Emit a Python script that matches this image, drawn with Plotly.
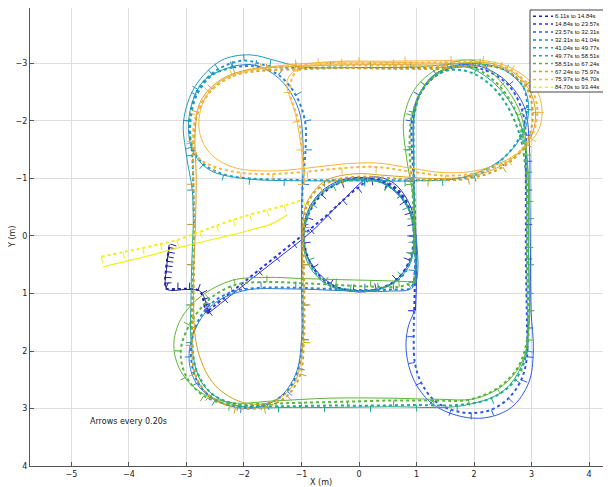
import math
import plotly.graph_objects as go

# ---------------- data ----------------
labels = ["6.11s to 14.84s", "14.84s to 23.57s", "23.57s to 32.31s", "32.31s to 41.04s",
          "41.04s to 49.77s", "49.77s to 58.51s", "58.51s to 67.24s", "67.24s to 75.97s",
          "75.97s to 84.70s", "84.70s to 93.44s"]

x_ticks = [-5, -4, -3, -2, -1, 0, 1, 2, 3, 4]
y_ticks = [-3, -2, -1, 0, 1, 2, 3, 4]

# segment 1
seg1_est_x = [-2.60, -2.64, -2.67, -2.69, -2.71, -2.74, -2.80, -2.95, -3.15, -3.36, -3.37, -3.37, -3.36, -3.35, -3.34, -3.33, -3.31, -3.30, -3.28]
seg1_est_y = [1.30, 1.36, 1.30, 1.20, 1.10, 1.00, 0.94, 0.92, 0.92, 0.91, 0.82, 0.72, 0.62, 0.52, 0.44, 0.36, 0.28, 0.20, 0.14]
seg1_ref_x = [-2.62, -2.70, -2.78, -3.00, -3.34, -3.34, -3.30]
seg1_ref_y = [1.34, 1.05, 0.95, 0.93, 0.92, 0.50, 0.15]

# segment 2
seg2_est_x = [-2.62, -2.35, -2.05, -1.75, -1.45, -1.15, -0.85, -0.55, -0.28, -0.02, 0.22, 0.5, 0.75, 0.9, 0.95, 0.88, 0.65, 0.3, -0.1, -0.5, -0.8, -0.95, -0.9, -0.65, -0.3, 0.1, 0.5, 0.8, 0.95, 0.98, 0.97, 0.96]
seg2_est_y = [1.30, 1.08, 0.84, 0.60, 0.36, 0.12, -0.12, -0.37, -0.62, -0.84, -0.99, -0.93, -0.72, -0.4, 0.0, 0.42, 0.76, 0.93, 0.95, 0.84, 0.55, 0.12, -0.32, -0.72, -0.94, -1.0, -0.9, -0.6, -0.2, 0.3, 0.8, 1.3]
seg2_ref_x = [-2.6, -2.0, -1.4, -0.8, -0.3, 0.2, 0.6, 0.9, 0.97, 0.88, 0.6, 0.2, -0.3, -0.7, -0.95, -0.92, -0.65, -0.2, 0.3, 0.7, 0.95, 1.0, 0.98]
seg2_ref_y = [1.33, 0.85, 0.38, -0.1, -0.6, -1.02, -0.92, -0.5, 0.0, 0.45, 0.8, 0.96, 0.92, 0.65, 0.2, -0.35, -0.78, -1.0, -0.97, -0.7, -0.25, 0.4, 1.3]

# segment 3
seg3_est_x = [0.96, 0.95, 0.97, 1.08, 1.3, 1.6, 1.95, 2.3, 2.6, 2.82, 2.92, 2.92, 2.91, 2.9, 2.9, 2.9, 2.9, 2.9, 2.83, 2.6, 2.2, 1.75, 1.35, 1.05, 0.92, 0.92, 0.95, 0.97, 0.98]
seg3_est_y = [1.3, 1.75, 2.2, 2.55, 2.85, 3.02, 3.08, 3.02, 2.82, 2.5, 2.1, 1.6, 1.0, 0.4, -0.2, -0.8, -1.3, -1.75, -2.2, -2.62, -2.88, -2.95, -2.8, -2.45, -2.0, -1.5, -1.0, -0.5, 0.0]
seg3_ref_x = [0.97, 0.85, 0.82, 0.95, 1.25, 1.7, 2.2, 2.65, 2.95, 3.03, 2.99, 2.98, 2.97, 2.96, 2.87, 2.55, 2.1, 1.6, 1.2, 0.97, 0.95, 0.98]
seg3_ref_y = [1.3, 1.6, 2.0, 2.5, 2.9, 3.12, 3.16, 2.98, 2.55, 2.0, 1.3, 0.3, -0.7, -1.6, -2.25, -2.7, -2.95, -2.95, -2.7, -2.2, -1.3, 0.0]

# segment 4
seg4_est_x = [0.98, 0.97, 0.9, 0.6, 0.1, -0.5, -1.1, -1.7, -2.2, -2.6, -2.85, -2.92, -2.8, -2.5, -2.05, -1.6, -1.25, -1.05, -0.98, -0.98, -0.99, -0.99, -0.98, -0.93, -0.94, -1.1, -1.4, -1.8, -2.2]
seg4_est_y = [0.0, 0.6, 0.9, 0.93, 0.94, 0.92, 0.9, 0.9, 0.97, 1.2, 1.6, 2.1, 2.55, 2.85, 2.97, 2.92, 2.7, 2.3, 1.8, 1.2, 0.5, -0.2, -0.9, -1.5, -2.0, -2.45, -2.8, -2.95, -2.93]
seg4_ref_x = [0.99, 0.95, 0.5, -0.3, -1.2, -2.0, -2.55, -2.88, -2.95, -2.8, -2.4, -1.9, -1.4, -1.1, -1.0, -1.0, -1.0, -0.97, -1.05, -1.35, -1.8, -2.2]
seg4_ref_y = [0.0, 0.88, 0.96, 0.95, 0.92, 0.95, 1.2, 1.7, 2.2, 2.6, 2.9, 3.0, 2.82, 2.4, 1.8, 0.8, -0.4, -1.5, -2.2, -2.7, -2.97, -2.95]

# segment 5
seg5_est_x = [-2.2, -2.55, -2.82, -2.93, -2.9, -2.7, -2.35, -1.9, -1.3, -0.6, 0.1, 0.8, 1.45, 2.0, 2.45, 2.78, 2.92, 2.85, 2.55, 2.1, 1.6, 0.9, 0.2, -0.5, -1.1, -1.55, -2.0, -2.45, -2.8, -2.95, -2.9, -2.88, -2.87]
seg5_est_y = [-2.93, -2.8, -2.45, -2.0, -1.55, -1.25, -1.07, -1.0, -0.98, -0.97, -0.97, -0.97, -0.98, -1.05, -1.3, -1.7, -2.2, -2.6, -2.88, -2.97, -2.93, -2.92, -2.92, -2.93, -2.92, -2.95, -3.05, -2.9, -2.55, -2.0, -1.4, -0.8, -0.2]
seg5_ref_x = [-2.2, -2.7, -2.95, -2.9, -2.6, -2.0, -1.0, 0.0, 1.0, 1.8, 2.5, 2.9, 2.9, 2.5, 2.0, 1.0, 0.0, -1.0, -1.45, -1.9, -2.4, -2.85, -3.05, -3.0, -2.9, -2.88]
seg5_ref_y = [-2.95, -2.7, -2.1, -1.5, -1.15, -1.0, -0.96, -0.96, -0.96, -1.02, -1.35, -1.9, -2.5, -2.9, -3.0, -2.94, -2.93, -2.94, -3.05, -3.15, -3.05, -2.6, -2.0, -1.4, -0.8, -0.2]

# segment 6
seg6_est_x = [-2.87, -2.88, -2.9, -2.9, -2.82, -2.55, -2.1, -1.4, -0.6, 0.2, 1.0, 1.7, 2.3, 2.72, 2.92, 2.94, 2.93, 2.93, 2.9, 2.78, 2.45, 2.0, 1.55, 1.15, 0.97, 0.95, 0.95, 0.93, 0.75, 0.35, -0.15, -0.6, -0.88, -0.96, -0.82, -0.45, 0.05, 0.5, 0.85, 0.97, 0.98]
seg6_est_y = [-0.2, 0.5, 1.2, 1.85, 2.35, 2.75, 2.93, 2.96, 2.95, 2.95, 2.94, 2.94, 2.82, 2.5, 2.0, 1.3, 0.5, -0.3, -1.1, -1.8, -2.45, -2.82, -2.88, -2.62, -2.15, -1.55, -0.95, 0.3, 0.7, 0.92, 0.95, 0.8, 0.42, -0.08, -0.55, -0.88, -0.99, -0.88, -0.5, 0.1, 0.8]
seg6_ref_x = [-2.88, -2.92, -2.9, -2.7, -2.2, -1.0, 0.5, 1.8, 2.5, 2.85, 2.95, 2.94, 2.92, 2.75, 2.3, 1.8, 1.3, 1.0, 0.95, 0.9, 0.55, 0.0, -0.55, -0.9, -0.95, -0.7, -0.2, 0.4, 0.85, 0.98, 0.98]
seg6_ref_y = [-0.2, 1.0, 2.0, 2.6, 2.93, 2.98, 2.97, 2.95, 2.7, 2.2, 1.5, 0.0, -1.3, -2.1, -2.7, -2.95, -2.8, -2.3, -1.2, 0.45, 0.85, 0.97, 0.85, 0.45, -0.1, -0.7, -0.97, -0.92, -0.5, 0.2, 0.8]

# segment 7
seg7_est_x = [0.98, 0.7, 0.2, -0.4, -1.0, -1.6, -2.15, -2.6, -2.95, -3.1, -3.0, -2.7, -2.25, -1.7, -1.0, -0.2, 0.6, 1.3, 1.9, 2.4, 2.75, 2.92, 2.93, 2.92, 2.92, 2.88, 2.75, 2.45, 2.0, 1.55, 1.15, 0.92, 0.88, 0.92, 0.95, 0.96]
seg7_est_y = [0.8, 0.88, 0.88, 0.85, 0.82, 0.8, 0.85, 1.1, 1.55, 2.0, 2.45, 2.78, 2.93, 2.92, 2.9, 2.88, 2.86, 2.86, 2.85, 2.65, 2.3, 1.8, 1.0, 0.2, -0.6, -1.4, -2.1, -2.6, -2.92, -2.92, -2.62, -2.1, -1.5, -0.9, -0.3, 0.3]
seg7_ref_x = [0.98, 0.5, -0.3, -1.0, -1.6, -2.2, -2.75, -3.1, -3.22, -3.1, -2.75, -2.2, -1.5, -0.5, 0.5, 1.4, 2.0, 2.5, 2.85, 2.96, 2.95, 2.95, 2.92, 2.8, 2.45, 2.0, 1.45, 1.0, 0.78, 0.82, 0.95, 0.97]
seg7_ref_y = [0.8, 0.78, 0.76, 0.74, 0.72, 0.77, 1.05, 1.45, 1.9, 2.35, 2.72, 2.9, 2.87, 2.82, 2.82, 2.84, 2.83, 2.6, 2.15, 1.5, 0.5, -0.5, -1.4, -2.15, -2.7, -3.05, -2.95, -2.6, -2.05, -1.4, -0.6, 0.3]

# segment 8
seg8_est_x = [1.5, 0.6, -0.3, -1.0, -1.6, -2.15, -2.55, -2.8, -2.88, -2.88, -2.87, -2.87, -2.88, -2.9, -2.85, -2.6, -2.15, -1.65, -1.25, -1.02, -0.96, -0.95, -0.96, -0.96, -0.9, -0.68, -0.3, 0.15, 0.6, 1.2, 1.9, 2.5, 2.9, 3.02, 2.88, 2.45, 1.95, 1.5]
seg8_est_y = [-2.9, -2.91, -2.92, -2.9, -2.88, -2.8, -2.55, -2.15, -1.6, -0.9, -0.2, 0.5, 1.2, 1.9, 2.4, 2.78, 2.98, 2.98, 2.78, 2.4, 1.85, 1.2, 0.5, -0.15, -0.55, -0.85, -1.0, -1.03, -1.0, -0.97, -1.0, -1.2, -1.6, -2.15, -2.62, -2.92, -2.96, -2.92]
seg8_ref_x = [1.5, 0.5, -0.5, -1.3, -1.9, -2.4, -2.75, -2.85, -2.83, -2.85, -2.88, -2.8, -2.5, -2.0, -1.5, -1.15, -1.0, -0.97, -0.98, -0.9, -0.6, -0.1, 0.5, 1.3, 2.0, 2.6, 3.0, 3.05, 2.8, 2.3, 1.5]
seg8_ref_y = [-2.97, -2.98, -2.97, -2.94, -2.9, -2.72, -2.35, -1.8, -1.0, 0.0, 1.0, 2.0, 2.6, 2.9, 2.88, 2.6, 2.1, 1.0, -0.2, -0.6, -0.95, -1.08, -1.05, -1.0, -1.05, -1.3, -1.75, -2.3, -2.75, -3.0, -2.98]

# segment 9
seg9_est_x = [1.5, 0.6, -0.3, -1.1, -1.7, -2.2, -2.6, -2.83, -2.88, -2.78, -2.5, -2.05, -1.5, -0.9, -0.3, 0.3, 0.9, 1.5, 2.05, 2.6, 2.98, 3.1, 3.0, 2.65, 2.15, 1.6, 0.8, 0.0, -0.7, -1.1, -1.2, -1.05, -0.98, -0.95]
seg9_est_y = [-2.95, -2.96, -2.97, -2.96, -2.9, -2.78, -2.5, -2.1, -1.65, -1.35, -1.2, -1.1, -1.08, -1.12, -1.18, -1.2, -1.12, -1.05, -1.1, -1.32, -1.7, -2.15, -2.55, -2.88, -3.02, -3.02, -3.01, -3.0, -2.98, -2.85, -2.5, -2.0, -1.5, -0.9]
seg9_ref_x = [1.5, 0.5, -0.5, -1.3, -1.9, -2.4, -2.7, -2.78, -2.6, -2.2, -1.6, -0.9, -0.3, 0.3, 0.9, 1.5, 2.1, 2.7, 3.1, 3.18, 3.05, 2.65, 2.1, 1.5, 0.5, -0.5, -1.0, -1.25, -1.1, -1.0, -0.95]
seg9_ref_y = [-3.0, -3.02, -3.02, -2.97, -2.88, -2.7, -2.35, -1.85, -1.45, -1.2, -1.13, -1.18, -1.25, -1.27, -1.18, -1.1, -1.15, -1.4, -1.8, -2.2, -2.6, -2.92, -3.06, -3.05, -3.04, -3.03, -2.95, -2.7, -2.1, -1.5, -0.9]

# segment 10
seg10_est_x = [-4.48, -4.1, -3.76, -3.45, -3.17, -2.77, -2.48, -2.19, -1.9, -1.6, -1.3, -0.97]
seg10_est_y = [0.36, 0.28, 0.21, 0.14, 0.07, -0.07, -0.18, -0.28, -0.37, -0.45, -0.53, -0.63]
seg10_ref_x = [-4.45, -4.1, -3.76, -3.45, -3.17, -2.88, -2.59, -2.25, -1.9, -1.5, -1.25]
seg10_ref_y = [0.54, 0.45, 0.37, 0.29, 0.21, 0.14, 0.07, -0.01, -0.1, -0.22, -0.37]

colors = ["#22229a", "#2a35d6", "#2f5ae6", "#2a80d8", "#1e9cc0",
          "#22a88e", "#5ab43c", "#d4a020", "#f4b63c", "#f0f014"]

segments = [
    (seg1_est_x, seg1_est_y, seg1_ref_x, seg1_ref_y),
    (seg2_est_x, seg2_est_y, seg2_ref_x, seg2_ref_y),
    (seg3_est_x, seg3_est_y, seg3_ref_x, seg3_ref_y),
    (seg4_est_x, seg4_est_y, seg4_ref_x, seg4_ref_y),
    (seg5_est_x, seg5_est_y, seg5_ref_x, seg5_ref_y),
    (seg6_est_x, seg6_est_y, seg6_ref_x, seg6_ref_y),
    (seg7_est_x, seg7_est_y, seg7_ref_x, seg7_ref_y),
    (seg8_est_x, seg8_est_y, seg8_ref_x, seg8_ref_y),
    (seg9_est_x, seg9_est_y, seg9_ref_x, seg9_ref_y),
    (seg10_est_x, seg10_est_y, seg10_ref_x, seg10_ref_y),
]


def arrow_ticks(xs, ys, length=0.11):
    tx, ty = [], []
    n = len(xs)
    for i in range(n):
        a, b = max(i - 1, 0), min(i + 1, n - 1)
        dx, dy = xs[b] - xs[a], ys[b] - ys[a]
        d = math.hypot(dx, dy) or 1.0
        px, py = -dy / d, dx / d
        tx += [xs[i], xs[i] + length * px, None]
        ty += [ys[i], ys[i] + length * py, None]
    return tx, ty


# ---------------- geometry (page body adds an 8 px offset) ----------------
FIG_W, FIG_H = 603, 479
M_L, M_R, M_T, M_B = 22, 0, 0, 21
PW, PH = FIG_W - M_L - M_R, FIG_H - M_T - M_B


def px_x(fx):
    return (fx - M_L) / PW


def px_y(fy):
    return 1 - (fy - M_T) / PH


fig = go.Figure()
for k, (ex, ey, rx, ry) in enumerate(segments):
    c = colors[k]
    fig.add_trace(go.Scatter(x=rx, y=ry, mode="lines",
                             line=dict(color=c, width=1.2 if k == 9 else 1, shape="spline"),
                             showlegend=False, hoverinfo="skip"))
    tx, ty = arrow_ticks(ex, ey)
    fig.add_trace(go.Scatter(x=tx, y=ty, mode="lines", line=dict(color=c, width=1),
                             showlegend=False, hoverinfo="skip"))
    fig.add_trace(go.Scatter(x=ex, y=ey, mode="lines", name=labels[k], showlegend=False,
                             line=dict(color=c, width=2, dash="dot", shape="spline")))

# custom compact legend (box, dotted samples, labels)
shapes = [dict(type="rect", xref="paper", yref="paper", layer="above",
               x0=px_x(522), x1=px_x(599), y0=px_y(84), y1=px_y(2),
               line=dict(color="#444444", width=1), fillcolor="white")]
annotations = []
for k in range(len(labels)):
    fy = 8.2 + k * 7.9
    shapes.append(dict(type="line", xref="paper", yref="paper", layer="above",
                       x0=px_x(525), x1=px_x(545), y0=px_y(fy), y1=px_y(fy),
                       line=dict(color=colors[k], width=1.5, dash="dot")))
    annotations.append(dict(text=labels[k], x=px_x(545.5), y=px_y(fy), xref="paper", yref="paper",
                            xanchor="left", yanchor="middle", showarrow=False, borderpad=0,
                            font=dict(size=6, family="Liberation Sans", color="#111111")))

annotations += [
    dict(text="X (m)", x=0.5, y=0, xref="paper", yref="paper", xanchor="center",
         yanchor="top", yshift=-10, showarrow=False, font=dict(size=8)),
    dict(text="Y (m)", x=px_x(4), y=0.5, xref="paper", yref="paper", xanchor="center",
         yanchor="middle", textangle=-90, showarrow=False, font=dict(size=8)),
    dict(text="Arrows every 0.20s", x=-4.72, y=3.22, xref="x", yref="y", xanchor="left",
         yanchor="middle", showarrow=False, font=dict(size=8)),
]

axis_common = dict(showgrid=True, gridcolor="#dedede", gridwidth=1, zeroline=False,
                   showline=True, linecolor="#555555", linewidth=1, ticks="inside",
                   ticklen=4, tickcolor="#555555", tickfont=dict(size=8, color="#222222"))

fig.update_layout(
    width=FIG_W, height=FIG_H,
    margin=dict(l=M_L, r=M_R, t=M_T, b=M_B, autoexpand=False),
    plot_bgcolor="white", paper_bgcolor="white",
    font=dict(family="DejaVu Sans", size=8, color="#222222"),
    xaxis=dict(range=[-5.72, 4.38], tickvals=x_ticks, **axis_common),
    yaxis=dict(range=[4, -3.965], tickvals=y_ticks, **axis_common),
    showlegend=False,
    shapes=shapes,
    annotations=annotations,
)

fig.write_html("out.html")
